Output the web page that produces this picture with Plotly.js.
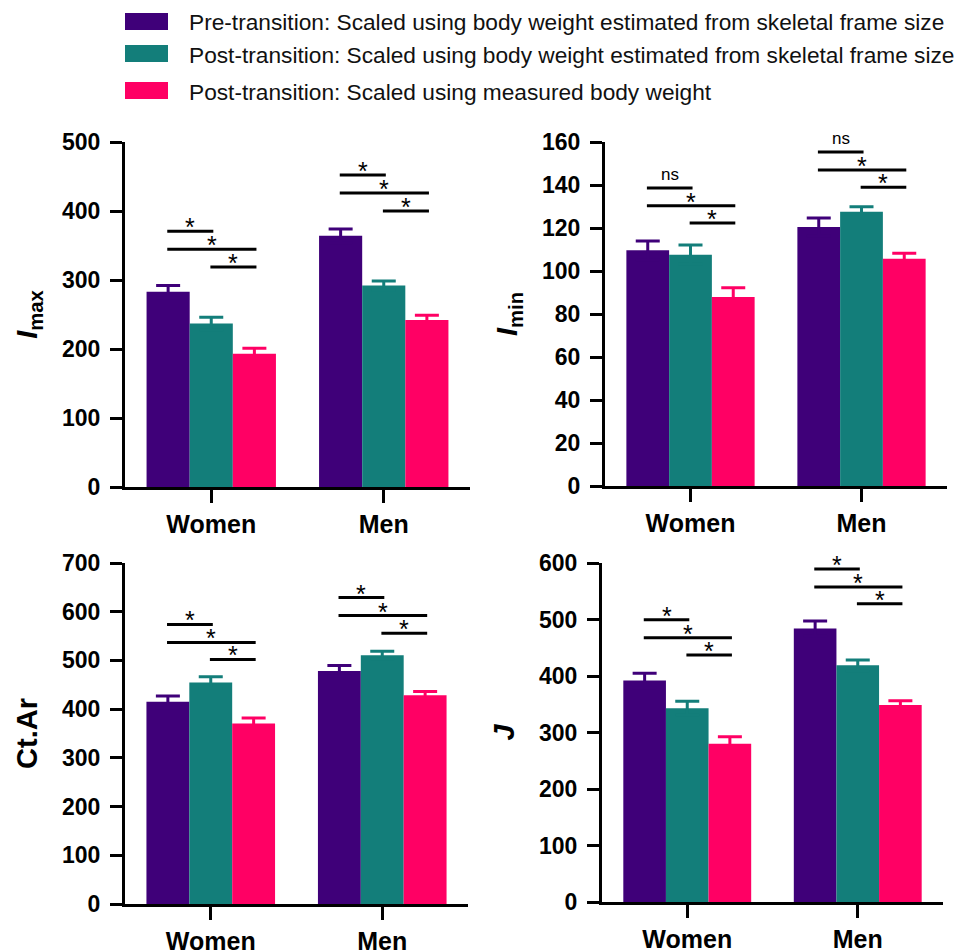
<!DOCTYPE html>
<html><head><meta charset="utf-8">
<script src="https://cdn.plot.ly/plotly-3.0.1.min.js"></script>
<style>html,body{margin:0;padding:0;background:#fff}#chart{width:965px;height:950px}</style>
</head><body><div id="chart"></div>
<script>
// ---------- data ----------
const categories = ['Women', 'Men'];
const seriesNames = [
  'Pre-transition: Scaled using body weight estimated from skeletal frame size',
  'Post-transition: Scaled using body weight estimated from skeletal frame size',
  'Post-transition: Scaled using measured body weight'
];
const seriesColors = ['#3f0079', '#137e7a', '#ff0064'];

// I_max
const imaxPre = [283, 364];        const imaxPreErr = [9, 10];
const imaxPostEst = [237, 292];    const imaxPostEstErr = [9, 6.5];
const imaxPostMeas = [193, 242];   const imaxPostMeasErr = [8, 7];
const imaxSigY = [370.5, 344.5, 319, 452, 426, 400];
const imaxSigLabels = ['*', '*', '*', '*', '*', '*'];

// I_min
const iminPre = [109.6, 120.5];    const iminPreErr = [4.4, 4.2];
const iminPostEst = [107.6, 127.6];const iminPostEstErr = [4.5, 2.3];
const iminPostMeas = [87.9, 105.7];const iminPostMeasErr = [4.3, 2.6];
const iminSigY = [138.6, 130.4, 122.3, 155.3, 147, 138.9];
const iminSigLabels = ['ns', '*', '*', 'ns', '*', '*'];

// Ct.Ar
const ctarPre = [415, 478.5];      const ctarPreErr = [12, 11];
const ctarPostEst = [454.5, 510.6];const ctarPostEstErr = [12, 8];
const ctarPostMeas = [370.5, 428.6];const ctarPostMeasErr = [11.5, 7.5];
const ctarSigY = [574, 537, 502, 629, 592, 556];
const ctarSigLabels = ['*', '*', '*', '*', '*', '*'];

// J
const jPre = [392, 484];           const jPreErr = [13, 13.5];
const jPostEst = [343, 419];       const jPostEstErr = [12.5, 9.5];
const jPostMeas = [280, 348.6];    const jPostMeasErr = [12.5, 7.7];
const jSigY = [499.5, 467.5, 437, 589.5, 557.7, 527.7];
const jSigLabels = ['*', '*', '*', '*', '*', '*'];

// comparison pairs (series indices) within each category, same order as SigY entries
const sigPairs = [[0, 1], [0, 2], [1, 2]];

// ---------- build ----------
const FONT = 'Arial, "Liberation Sans", Helvetica, sans-serif';
const panels = [
  {ax: '', vals: [imaxPre, imaxPostEst, imaxPostMeas], errs: [imaxPreErr, imaxPostEstErr, imaxPostMeasErr], sigY: imaxSigY, sigL: imaxSigLabels,
   xdom: [125/965, 470/965], ydom: [1-487/950, 1-142/950], range: [0, 500], dtick: 100, title: '<i>I</i><sub>max</sub>'},
  {ax: '2', vals: [iminPre, iminPostEst, iminPostMeas], errs: [iminPreErr, iminPostEstErr, iminPostMeasErr], sigY: iminSigY, sigL: iminSigLabels,
   xdom: [605/965, 947/965], ydom: [1-486/950, 1-142/950], range: [0, 160], dtick: 20, title: '<i>I</i><sub>min</sub>'},
  {ax: '3', vals: [ctarPre, ctarPostEst, ctarPostMeas], errs: [ctarPreErr, ctarPostEstErr, ctarPostMeasErr], sigY: ctarSigY, sigL: ctarSigLabels,
   xdom: [125/965, 468/965], ydom: [1-904/950, 1-563/950], range: [0, 700], dtick: 100, title: 'Ct.Ar'},
  {ax: '4', vals: [jPre, jPostEst, jPostMeas], errs: [jPreErr, jPostEstErr, jPostMeasErr], sigY: jSigY, sigL: jSigLabels,
   xdom: [602/965, 943/965], ydom: [1-902/950, 1-563/950], range: [0, 600], dtick: 100, title: '<i>J</i>'}
];

const BARGAP = 0.25;
const barW = (1 - BARGAP) / 3;
const traces = [];
const shapes = [];
const annotations = [];
const layout = {
  width: 965, height: 950,
  margin: {l: 0, r: 0, t: 0, b: 0},
  paper_bgcolor: '#fff', plot_bgcolor: '#fff',
  barmode: 'group', bargap: BARGAP, bargroupgap: 0,
  showlegend: false,
  font: {family: FONT, color: '#000'}
};

panels.forEach(p => {
  const xa = 'x' + p.ax, ya = 'y' + p.ax;
  p.vals.forEach((v, s) => {
    traces.push({
      type: 'bar', x: categories, y: v, name: seriesNames[s],
      xaxis: xa, yaxis: ya,
      marker: {color: seriesColors[s], line: {width: 0}},
      error_y: {type: 'data', array: p.errs[s], symmetric: true, color: seriesColors[s], thickness: 3, width: 12},
      hoverinfo: 'skip'
    });
  });
  layout['xaxis' + p.ax] = {
    domain: p.xdom, anchor: ya, type: 'category', range: [-0.5, 1.5],
    showgrid: false, zeroline: false, showline: true, linewidth: 3, linecolor: '#000',
    ticks: 'outside', ticklen: 13, tickwidth: 3, tickcolor: '#000', ticklabelstandoff: 0,
    tickfont: {family: FONT, size: 25, color: '#000', weight: 'bold'}, fixedrange: true
  };
  layout['yaxis' + p.ax] = {
    domain: p.ydom, anchor: xa, range: p.range, tick0: 0, dtick: p.dtick,
    showgrid: false, zeroline: false, showline: true, linewidth: 3, linecolor: '#000',
    ticks: 'outside', ticklen: 12, tickwidth: 3, tickcolor: '#000', ticklabelstandoff: 5,
    tickfont: {family: FONT, size: 23, color: '#000', weight: 'bold'}, fixedrange: true,
    title: {text: p.title, font: {family: FONT, size: 29, color: '#000', weight: 'bold'}, standoff: 16}
  };
  // significance brackets
  p.sigY.forEach((yv, i) => {
    const cat = Math.floor(i / 3);
    const pair = sigPairs[i % 3];
    const x0 = cat + (pair[0] - 1) * barW - 0.005;
    const x1 = cat + (pair[1] - 1) * barW + 0.012;
    shapes.push({type: 'line', xref: xa, yref: ya, x0: x0, x1: x1, y0: yv, y1: yv,
      line: {color: '#000', width: 3}});
    const isStar = p.sigL[i] === '*';
    annotations.push({xref: xa, yref: ya, x: (x0 + x1) / 2, y: yv, text: p.sigL[i],
      showarrow: false, xanchor: 'center', yanchor: 'bottom',
      yshift: isStar ? -12 : 2,
      font: {family: FONT, size: isStar ? 25 : 17, color: '#000'}});
  });
});

// custom legend (large swatches like the reference)
const legendRowsY = [21.5, 53.5, 90.5];
seriesNames.forEach((n, s) => {
  const cy = legendRowsY[s];
  shapes.push({type: 'rect', xref: 'paper', yref: 'paper',
    x0: 125/965, x1: 168/965, y0: 1 - (cy + 8.5)/950, y1: 1 - (cy - 8.5)/950,
    fillcolor: seriesColors[s], line: {width: 0}});
  annotations.push({xref: 'paper', yref: 'paper', x: 187/965, y: 1 - (cy + 1)/950,
    xanchor: 'left', yanchor: 'middle', text: n, showarrow: false,
    font: {family: FONT, size: 22.7, color: '#111'}});
});

layout.shapes = shapes;
layout.annotations = annotations;

Plotly.newPlot('chart', traces, layout, {displayModeBar: false, staticPlot: true});
</script>
</body></html>
